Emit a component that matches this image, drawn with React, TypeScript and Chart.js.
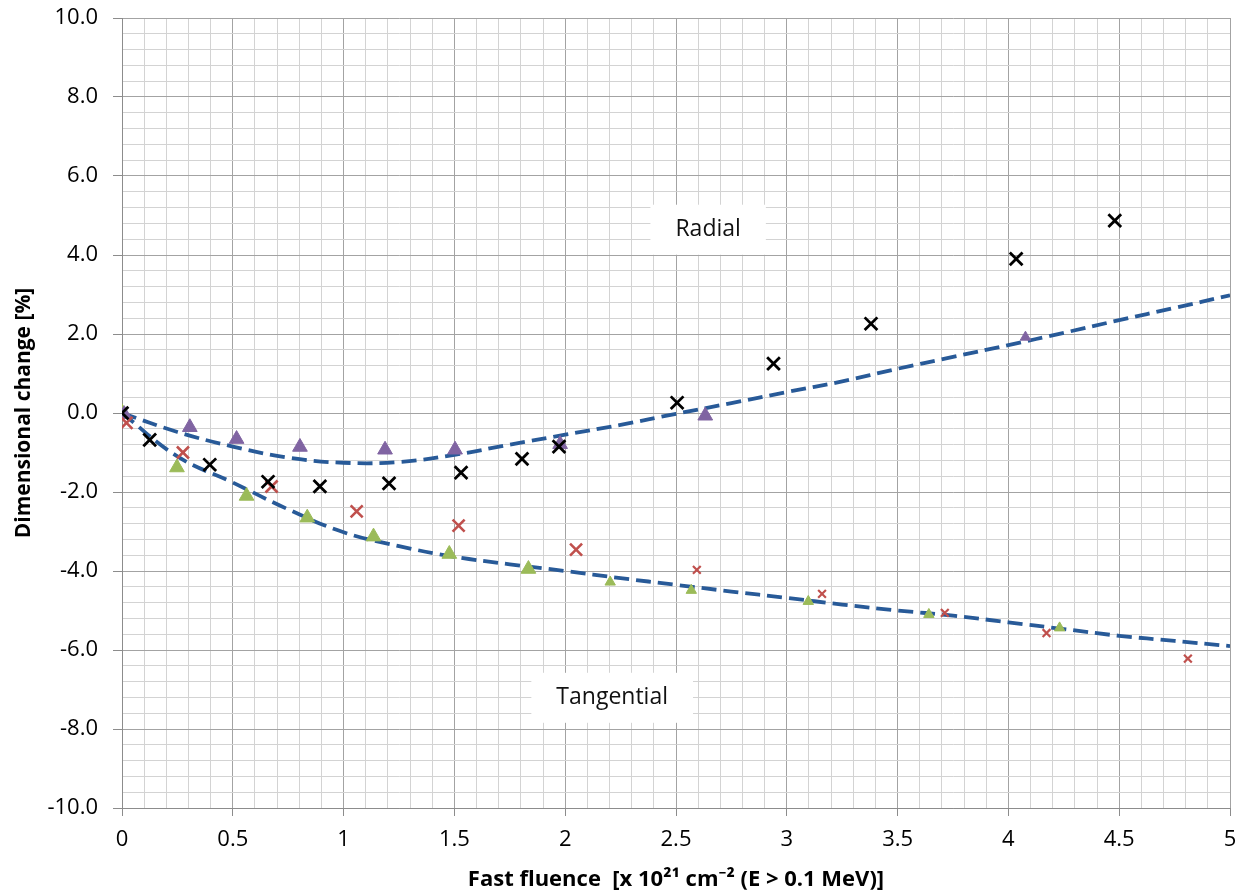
import { useEffect, useRef } from 'react';
import { Chart, registerables } from 'chart.js';

Chart.register(...registerables);

// Radial measurements (black crosses)
const radialCrossX = [0, 0.125, 0.396, 0.659, 0.893, 1.205, 1.53, 1.805, 1.972, 2.505, 2.94, 3.38, 4.035, 4.48];
const radialCrossY = [0, -0.68, -1.31, -1.74, -1.86, -1.78, -1.51, -1.16, -0.85, 0.26, 1.25, 2.26, 3.9, 4.87];

// Radial measurements (purple triangles)
const radialTriX = [0.01, 0.306, 0.517, 0.803, 1.187, 1.503, 1.977, 2.632, 4.077];
const radialTriY = [-0.03, -0.36, -0.66, -0.86, -0.93, -0.93, -0.79, -0.07, 1.92];

// Tangential measurements (green triangles)
const tangTriX = [0, 0.248, 0.562, 0.836, 1.135, 1.477, 1.834, 2.203, 2.569, 3.097, 3.641, 4.231];
const tangTriY = [0.02, -1.38, -2.1, -2.65, -3.13, -3.57, -3.95, -4.28, -4.49, -4.77, -5.1, -5.44];

// Tangential measurements (red crosses)
const tangCrossX = [0.02, 0.275, 0.675, 1.059, 1.519, 2.049, 2.594, 3.159, 3.713, 4.172, 4.81];
const tangCrossY = [-0.25, -1.0, -1.86, -2.49, -2.85, -3.46, -3.97, -4.58, -5.06, -5.57, -6.22];

// Fitted trend lines
const fitX = [0, 0.25, 0.5, 0.75, 1.0, 1.25, 1.5, 1.75, 2.0, 2.25, 2.5, 2.75, 3.0, 3.25, 3.5, 3.75, 4.0, 4.25, 4.5, 4.75, 5.0];
const radialFitY = [0, -0.48, -0.85, -1.13, -1.26, -1.24, -1.06, -0.8, -0.55, -0.3, -0.02, 0.25, 0.53, 0.8, 1.12, 1.42, 1.72, 2.03, 2.35, 2.66, 2.98];
const tangFitY = [0, -1.1, -1.76, -2.44, -3.02, -3.37, -3.64, -3.83, -4.0, -4.18, -4.35, -4.52, -4.68, -4.85, -5.0, -5.13, -5.3, -5.47, -5.64, -5.77, -5.9];

// Curve labels (data coordinates)
const labelTexts = ['Radial', 'Tangential'];
const labelX = [2.645, 2.212];
const labelY = [4.64, -7.21];

const xTitle = 'Fast fluence  [x 10\u00B2\u00B9 cm\u207B\u00B2 (E > 0.1 MeV)]';
const yTitle = 'Dimensional change [%]';

const FONT = "'Open Sans', 'Noto Sans', sans-serif";

const toPts = (xs: number[], ys: number[]) => xs.map((x, i) => ({ x, y: ys[i] }));
const isMult = (v: number, m: number) => Math.abs(v / m - Math.round(v / m)) < 1e-6;

const labelPlugin = {
  id: 'curveLabels',
  afterDatasetsDraw(chart: any) {
    const { ctx, scales } = chart;
    ctx.save();
    ctx.font = `23px ${FONT}`;
    ctx.textAlign = 'center';
    ctx.textBaseline = 'middle';
    labelTexts.forEach((t, i) => {
      const px = scales.x.getPixelForValue(labelX[i]);
      const py = scales.y.getPixelForValue(labelY[i]);
      const w = ctx.measureText(t).width + 50;
      const h = 50;
      ctx.fillStyle = '#ffffff';
      ctx.fillRect(px - w / 2, py - h / 2, w, h);
      ctx.fillStyle = '#111111';
      ctx.fillText(t, px, py);
    });
    ctx.restore();
  },
};

export default function App() {
  const ref = useRef<HTMLCanvasElement | null>(null);
  useEffect(() => {
    document.body.style.margin = '0';
    if (!ref.current) return;
    const lineColor = '#285a98';
    const chart = new Chart(ref.current, {
      type: 'scatter',
      data: {
        datasets: [
          {
            label: 'Radial X',
            data: toPts(radialCrossX, radialCrossY),
            pointStyle: 'crossRot',
            pointRadius: 9,
            pointBorderWidth: 2.8,
            borderColor: '#000000',
            backgroundColor: '#000000',
          },
          {
            label: 'Tangential X',
            data: toPts(tangCrossX, tangCrossY),
            pointStyle: 'crossRot',
            pointRadius: (c: any) => (c.dataIndex < 6 ? 8.5 : 5.5),
            pointBorderWidth: (c: any) => (c.dataIndex < 6 ? 2.6 : 2.2),
            borderColor: '#c0504d',
            backgroundColor: '#c0504d',
          },
          {
            label: 'Radial tri',
            data: toPts(radialTriX, radialTriY),
            pointStyle: 'triangle',
            pointRadius: (c: any) => (c.dataIndex < 8 ? 8.5 : 6),
            pointBorderWidth: 1,
            borderColor: '#8064a2',
            backgroundColor: '#8064a2',
          },
          {
            label: 'Tangential tri',
            data: toPts(tangTriX, tangTriY),
            pointStyle: 'triangle',
            pointRadius: (c: any) => (c.dataIndex < 7 ? 8.5 : 6),
            pointBorderWidth: 1,
            borderColor: '#9bbb59',
            backgroundColor: '#9bbb59',
          },
          {
            label: 'Radial fit',
            type: 'line',
            data: toPts(fitX, radialFitY),
            showLine: true,
            borderColor: lineColor,
            borderWidth: 3.8,
            borderDash: [15, 7],
            pointRadius: 0,
            tension: 0.4,
            fill: false,
          } as any,
          {
            label: 'Tangential fit',
            type: 'line',
            data: toPts(fitX, tangFitY),
            showLine: true,
            borderColor: lineColor,
            borderWidth: 3.8,
            borderDash: [15, 7],
            pointRadius: 0,
            tension: 0.4,
            fill: false,
          } as any,
        ],
      },
      options: {
        responsive: false,
        animation: false,
        layout: { padding: { top: 18, right: 16, left: 0, bottom: 0 } },
        plugins: {
          legend: { display: false },
          tooltip: { enabled: false },
        },
        scales: {
          x: {
            type: 'linear',
            min: 0,
            max: 5,
            afterFit: (s: any) => {
              s.height = 86;
              s.paddingLeft = 0;
              s.paddingRight = 0;
            },
            ticks: {
              stepSize: 0.1,
              autoSkip: false,
              maxRotation: 0,
              padding: 11,
              color: '#000000',
              font: { family: FONT, size: 22 },
              callback: (v: any) => (isMult(Number(v), 0.5) ? String(Math.round(Number(v) * 10) / 10) : ''),
            },
            grid: {
              color: (c: any) => (isMult(c.tick.value, 0.5) ? '#a3a3a3' : '#d3d3d3'),
              tickColor: (c: any) => (isMult(c.tick.value, 0.5) ? '#8c8c8c' : 'rgba(0,0,0,0)'),
              tickLength: 8,
              lineWidth: 1,
            },
            border: { color: '#8c8c8c' },
            title: {
              display: true,
              text: xTitle,
              color: '#000000',
              font: { family: FONT, size: 22, weight: 'bold' },
              padding: { top: 0, bottom: 1 },
            },
          },
          y: {
            type: 'linear',
            min: -10,
            max: 10,
            afterFit: (s: any) => {
              s.width = 122;
              s.paddingTop = 0;
              s.paddingBottom = 0;
            },
            ticks: {
              stepSize: 0.4,
              maxTicksLimit: 1000,
              autoSkip: false,
              padding: 15,
              color: '#000000',
              font: { family: FONT, size: 22 },
              callback: (v: any) => (isMult(Number(v), 2) ? Number(v).toFixed(1) : ''),
            },
            grid: {
              color: (c: any) => (isMult(c.tick.value, 2) ? '#a3a3a3' : '#d3d3d3'),
              tickColor: (c: any) => (isMult(c.tick.value, 2) ? '#8c8c8c' : 'rgba(0,0,0,0)'),
              tickLength: 9,
              lineWidth: 1,
            },
            border: { color: '#8c8c8c' },
            title: {
              display: true,
              text: yTitle,
              color: '#000000',
              font: { family: FONT, size: 21, weight: 'bold' },
              padding: { top: 11, bottom: 0 },
            },
          },
        },
      },
      plugins: [labelPlugin],
    } as any);
    return () => chart.destroy();
  }, []);
  return (
    <div style={{ width: 1246, height: 894 }}>
      <canvas ref={ref} width={1246} height={894} style={{ display: 'block' }} />
    </div>
  );
}
